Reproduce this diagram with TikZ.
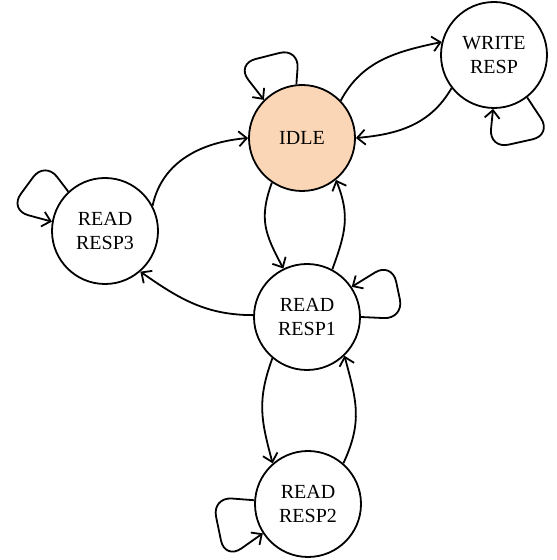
\documentclass[tikz,border=0pt]{standalone}
\usepackage{fontspec}
\setmainfont{Liberation Serif}
\usetikzlibrary{arrows.meta}
\definecolor{idlefill}{RGB}{251,214,182}
\begin{document}
\begin{tikzpicture}[x=1pt,y=1pt,
  state/.style={circle,draw,line width=1.8pt,minimum size=106pt,inner sep=0pt,
    align=center,font=\fontsize{20}{24}\selectfont},
  edge/.style={line width=1.8pt,-{Straight Barb[length=8pt,width=15pt]}},
  loopedge/.style={edge,rounded corners=20pt}]
\useasboundingbox (0,0) rectangle (557,560);

\node[state,fill=idlefill] (idle)  at (302,422) {IDLE};
\node[state]               (write) at (494,505) {WRITE\\RESP};
\node[state]               (r3)    at (105,329) {READ\\RESP3};
\node[state]               (r1)    at (307,243) {READ\\RESP1};
\node[state]               (r2)    at (308,56)  {READ\\RESP2};

% transitions between states
\draw[edge] (idle.44)  to[out=62,in=192]  (write.166);
\draw[edge] (write.218) to[out=240,in=5]  (idle.0);
\draw[edge] (r3.28)    to[out=78,in=185]  (idle.180);
\draw[edge] (idle.236) to[out=250,in=118,looseness=1.15] (r1.116);
\draw[edge] (r1.62)    to[out=70,in=292,looseness=1.1]  (idle.309);
\draw[edge] (r1.178)   to[out=180,in=-35] (r3.311);
\draw[edge] (r1.230)   to[out=250,in=105,looseness=1.1] (r2.131);
\draw[edge] (r2.49)    to[out=65,in=285,looseness=1.1]  (r1.314);

% self loops
\draw[loopedge] (idle.96)  -- (299,512) -- (236,496) -- (idle.135);
\draw[loopedge] (write.308) -- (552,425) -- (489,411) -- (write.269);
\draw[loopedge] (r3.133)   -- (45,399)  -- (9,350)   -- (r3.170);
\draw[loopedge] (r1.0)     -- (404,241) -- (392,298) -- (r1.34);
\draw[loopedge] (r2.176)   -- (212,63)  -- (225,0)   -- (r2.213);
\end{tikzpicture}
\end{document}
